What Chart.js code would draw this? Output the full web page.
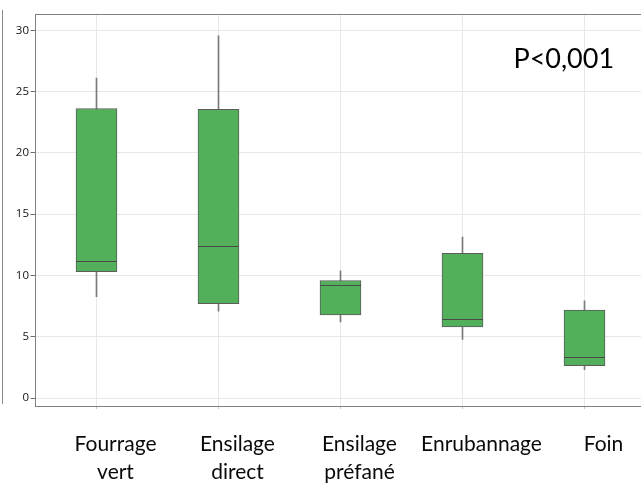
<!DOCTYPE html>
<html><head><meta charset="utf-8">
<script src="https://cdn.jsdelivr.net/npm/chart.js@4/dist/chart.umd.min.js"></script>
<style>
html,body{margin:0;padding:0;background:#fff;overflow:hidden;width:641px;height:489px;}
#wrap{position:relative;width:641px;height:489px;overflow:hidden;background:#fff;}
canvas{position:absolute;left:0;top:0;}
#edge{position:absolute;left:2px;top:10px;height:394px;border-left:1px solid #8a8a8a;}
</style></head><body>
<div id="wrap"><div id="edge"></div><canvas id="c" width="650" height="489" style="width:650px;height:489px"></canvas></div>
<script>
// ---- data ----
const categories = [["Fourrage","vert"],["Ensilage","direct"],["Ensilage","préfané"],"Enrubannage","Foin"];
const whiskerLow  = [8.26, 7.09, 6.20, 4.78, 2.31];
const quartile1   = [10.30, 7.69, 6.79, 5.81, 2.64];
const medians     = [11.17, 12.37, 9.24, 6.47, 3.31];
const quartile3   = [23.62, 23.56, 9.59, 11.80, 7.17];
const whiskerHigh = [26.10, 29.54, 10.38, 13.13, 7.93];
const yTicks = [0, 5, 10, 15, 20, 25, 30];
const annotation = "P<0,001";

const boxExtras = {
  id: 'boxExtras',
  afterDatasetsDraw(chart) {
    const { ctx, scales: { y } } = chart;
    const meta = chart.getDatasetMeta(1);
    ctx.save();
    ctx.strokeStyle = '#4a4a4a';
    ctx.lineWidth = 1;
    meta.data.forEach((bar, i) => {
      const py = Math.round(y.getPixelForValue(medians[i])) + 0.5;
      ctx.beginPath();
      ctx.moveTo(bar.x - bar.width / 2, py);
      ctx.lineTo(bar.x + bar.width / 2, py);
      ctx.stroke();
    });
    const a = chart.chartArea;
    ctx.strokeStyle = '#808080';
    ctx.strokeRect(Math.floor(a.left) + 0.5, Math.floor(a.top) + 0.5,
                   Math.round(a.right - a.left), Math.round(a.bottom - a.top));
    ctx.fillStyle = '#000';
    ctx.font = '27px Lato';
    ctx.textAlign = 'center';
    ctx.textBaseline = 'alphabetic';
    ctx.fillText(annotation, a.left + (a.right - a.left) * 0.866, a.top + 54);
    ctx.restore();
  }
};

new Chart(document.getElementById('c'), {
  type: 'bar',
  data: {
    labels: categories,
    datasets: [
      {
        label: 'whiskers',
        data: categories.map((_, i) => [whiskerLow[i], whiskerHigh[i]]),
        backgroundColor: '#7a7a7a',
        borderWidth: 0,
        barThickness: 1,
        grouped: false,
        order: 2
      },
      {
        label: 'boxes',
        data: categories.map((_, i) => [quartile1[i], quartile3[i]]),
        backgroundColor: '#52b05a',
        borderColor: '#5c5c5c',
        borderWidth: 1,
        borderSkipped: false,
        barThickness: 41,
        grouped: false,
        order: 1
      }
    ]
  },
  options: {
    responsive: false,
    animation: false,
    devicePixelRatio: 1,
    layout: { padding: { top: 14, right: 4.5, bottom: 0, left: 0 } },
    plugins: { legend: { display: false }, tooltip: { enabled: false } },
    scales: {
      x: {
        type: 'category',
        offset: true,
        grid: { offset: false, color: '#e8e8e8', tickLength: 3, tickColor: '#c4c4c4' },
        border: { display: false },
        ticks: {
          font: { family: 'Lato', size: 21, lineHeight: 1.3 },
          color: '#0a0a0a',
          padding: 22,
          labelOffset: 19,
          maxRotation: 0,
          autoSkip: false
        },
        afterFit(s) { s.height = 83; }
      },
      y: {
        min: -0.65,
        max: 31.33,
        afterBuildTicks(s) { s.ticks = yTicks.map(v => ({ value: v })); },
        grid: { color: '#e8e8e8', tickLength: 5, tickColor: '#707070' },
        border: { display: false },
        ticks: { font: { family: 'Open Sans', size: 11.5 }, color: '#111', padding: 1.5 },
        afterFit(s) { s.width = 35.5; }
      }
    }
  },
  plugins: [boxExtras]
});
</script>
</body></html>
